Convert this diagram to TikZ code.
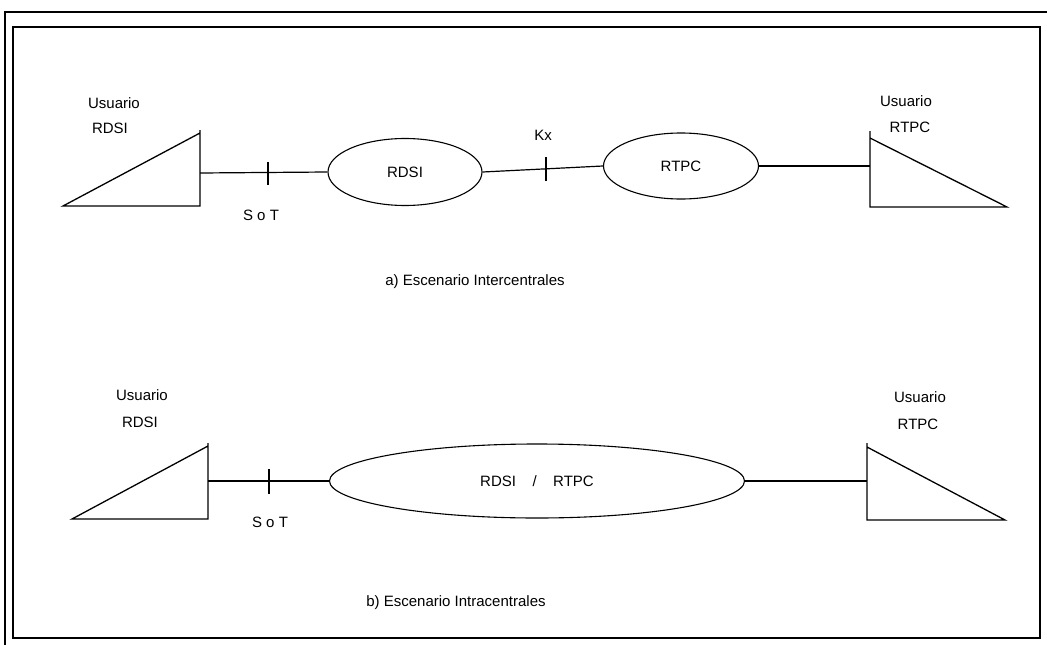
\documentclass[tikz,border=0pt]{standalone}
\usepackage{fontspec}
\setmainfont{Liberation Sans}
\usetikzlibrary{shapes.geometric,positioning,calc}

\begin{document}
\begin{tikzpicture}[
    x=1pt, y=-1pt,
    font=\fontsize{15}{17}\selectfont,
    net/.style={ellipse, draw, line width=1.1pt, inner sep=0pt},
    usr/.style={draw, line width=1.3pt},
    link/.style={draw, line width=1.2pt},
    cut/.style={draw, line width=1.4pt},
    lbl/.style={inner sep=0pt},
    capt/.style={inner sep=0pt, font=\fontsize{15}{17}\selectfont},
  ]
  \useasboundingbox (0,0) rectangle (1047,645);

  % frames
  \draw[line width=2.4pt] (1047,12) -- (5,12) -- (5,645);
  \draw[line width=1.4pt] (13,27) rectangle (1040,638);

  % a) Escenario Intercentrales
  \draw[usr] (200,130) -- (200,206) -- (63,206) -- (200,133);
  \draw[usr] (870,131) -- (870,207) -- (1007,207) -- (870,138);
  \coordinate (ua) at (200,173);
  \coordinate (ra) at (870,166);
  \node[net, minimum width=154pt, minimum height=67pt] (rdsi) at (405,172) {RDSI};
  \node[net, minimum width=155pt, minimum height=66pt] (rtpc) at (681,166) {RTPC};
  \node[lbl] (usrA) at (114,103) {Usuario};
  \node[lbl] (rdsiA) at (110,128) {RDSI};
  \node[lbl] (usrB) at (906,101) {Usuario};
  \node[lbl] (rtpcA) at (910,127) {RTPC};
  \node[lbl] (sotA) at (261,215) {S o T};
  \node[lbl] (kx) at (543,135) {Kx};
  \node[capt] (capA) at (475,282) {a) Escenario Intercentrales};

  \draw[link] (ua) -- (rdsi.west);
  \draw[link] (rdsi.east) -- (rtpc.west);
  \draw[link] (rtpc.east) -- (ra);
  \draw[cut] (268,162) -- (268,185);
  \draw[cut] (546,157) -- (546,181);

  % b) Escenario Intracentrales
  \draw[usr] (208,443) -- (208,519) -- (72,519) -- (208,446);
  \draw[usr] (867,443) -- (867,520) -- (1005,520) -- (867,447);
  \coordinate (ub) at (208,481);
  \coordinate (rb) at (867,481);
  \node[net, minimum width=415pt, minimum height=74pt] (mix) at (537,481)
    {RDSI\hspace{1.1em}/\hspace{1.1em}RTPC};
  \node[lbl] (usrC) at (142,395) {Usuario};
  \node[lbl] (rdsiB) at (140,422) {RDSI};
  \node[lbl] (usrD) at (920,397) {Usuario};
  \node[lbl] (rtpcB) at (918,424) {RTPC};
  \node[lbl] (sotB) at (270,522) {S o T};
  \node[capt] (capB) at (456,603) {b) Escenario Intracentrales};

  \draw[link] (ub) -- (mix.west);
  \draw[link] (mix.east) -- (rb);
  \draw[cut] (269,469) -- (269,494);
\end{tikzpicture}
\end{document}
